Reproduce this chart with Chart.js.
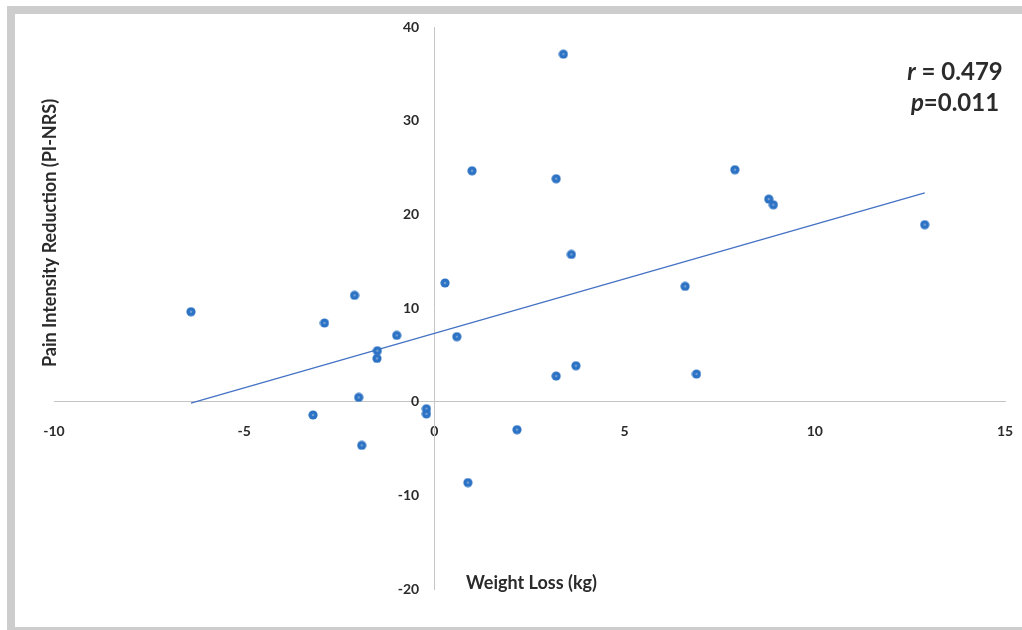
<!DOCTYPE html>
<html>
<head>
<meta charset="utf-8">
<script src="https://cdn.jsdelivr.net/npm/chart.js@4.4.1/dist/chart.umd.min.js"></script>
<style>
  html, body { margin: 0; padding: 0; background: #fff; overflow: hidden; }
  #frame { position: absolute; left: 7px; top: 6px; width: 1040px; height: 629px; border: 8px solid #cdcdcd; box-sizing: border-box; }
  #chart { position: absolute; left: 0; top: 0; }
</style>
</head>
<body>
<div id="frame"></div>
<canvas id="chart" width="1022" height="630"></canvas>
<script>
// weight loss (kg) vs pain intensity reduction
const weightLoss = [-6.40, -2.89, -2.10, -3.19, -1.99, -1.91, -1.50, -1.51, -0.99, -0.21, -0.21, 0.28, 0.59, 0.99, 0.88, 2.17, 3.39, 3.20, 3.60, 3.20, 3.72, 6.59, 6.89, 7.90, 8.79, 8.91, 12.89];
const painReduction = [9.6, 8.4, 11.35, -1.42, 0.46, -4.66, 5.44, 4.62, 7.08, -0.75, -1.31, 12.67, 6.94, 24.65, -8.64, -2.99, 37.1, 23.8, 15.72, 2.74, 3.84, 12.31, 2.95, 24.76, 21.63, 21.02, 18.9];

// linear trend line end points
const trendX = [-6.40, 12.89];
const trendY = [-0.15, 22.3];

const xTicks = [-10, -5, 0, 5, 10, 15];
const yTicks = [-20, -10, 0, 10, 20, 30, 40];

const statLines = [["r", " = 0.479"], ["p", "=0.011"]];
const xTitle = "Weight Loss (kg)";
const yTitle = "Pain Intensity Reduction (PI-NRS)";

const TEXT = "#2b2b2b";
const FONT = "Lato";

// axes cross inside the plot, so they take no layout room
const zeroSize = scale => {
  scale.width = 0; scale.height = 0;
  scale.paddingLeft = 0; scale.paddingRight = 0;
  scale.paddingTop = 0; scale.paddingBottom = 0;
};

// Excel-like marker: blue dot with a pale centre
function makeMarker() {
  const c = document.createElement("canvas");
  c.width = 10; c.height = 10;
  const g = c.getContext("2d");
  g.fillStyle = "#2c72c4";
  g.beginPath(); g.arc(5, 5, 4.6, 0, Math.PI * 2); g.fill();
  g.fillStyle = "#6f9fd6";
  g.beginPath(); g.arc(5, 5, 1.3, 0, Math.PI * 2); g.fill();
  return c;
}

const labelsPlugin = {
  id: "labels",
  afterDraw(chart) {
    const ctx = chart.ctx;
    ctx.save();
    ctx.fillStyle = TEXT;
    ctx.textBaseline = "middle";

    ctx.font = "bold 18px " + FONT;
    ctx.textAlign = "left";
    ctx.fillText(xTitle, 466, 583);

    ctx.save();
    ctx.translate(50, 233);
    ctx.rotate(-Math.PI / 2);
    ctx.textAlign = "center";
    ctx.fillText(yTitle, 0, 0);
    ctx.restore();

    // r / p annotation, centred
    const centre = 955;
    const ys = [72, 103];
    ctx.textAlign = "left";
    statLines.forEach(([sym, rest], i) => {
      ctx.font = "italic bold 24px " + FONT;
      const w1 = ctx.measureText(sym).width;
      ctx.font = "bold 24px " + FONT;
      const w2 = ctx.measureText(rest).width;
      const x0 = centre - (w1 + w2) / 2;
      ctx.font = "italic bold 24px " + FONT;
      ctx.fillText(sym, x0, ys[i]);
      ctx.font = "bold 24px " + FONT;
      ctx.fillText(rest, x0 + w1, ys[i]);
    });
    ctx.restore();
  }
};

new Chart(document.getElementById("chart"), {
  type: "scatter",
  data: {
    datasets: [
      {
        label: "Pain reduction",
        data: weightLoss.map((x, i) => ({ x, y: painReduction[i] })),
        pointStyle: makeMarker(),
        order: 1
      },
      {
        type: "line",
        label: "Trend",
        data: trendX.map((x, i) => ({ x, y: trendY[i] })),
        borderColor: "#4472c4",
        borderWidth: 1.3,
        pointRadius: 0,
        fill: false,
        order: 2
      }
    ]
  },
  options: {
    responsive: false,
    animation: false,
    layout: { padding: { left: 54, top: 27, right: 17, bottom: 41 } },
    plugins: {
      legend: { display: false },
      tooltip: { enabled: false }
    },
    scales: {
      x: {
        type: "linear",
        position: { y: 0 },
        min: -10, max: 15,
        afterFit: zeroSize,
        afterBuildTicks: s => { s.ticks = xTicks.map(v => ({ value: v })); },
        grid: { display: false },
        border: { display: true, color: "#c4c4c4", width: 1 },
        ticks: { padding: 13, color: TEXT, font: { family: FONT, size: 14, weight: "bold" } }
      },
      y: {
        type: "linear",
        position: { x: 0 },
        min: -20, max: 40,
        afterFit: zeroSize,
        grid: { display: false },
        border: { display: true, color: "#c4c4c4", width: 1 },
        ticks: { display: false }
      },
      yl: {
        type: "linear",
        axis: "y",
        position: { x: -0.4 },
        min: -20, max: 40,
        afterFit: zeroSize,
        afterBuildTicks: s => { s.ticks = yTicks.map(v => ({ value: v })); },
        grid: { display: false },
        border: { display: false },
        ticks: { padding: 0, color: TEXT, font: { family: FONT, size: 14, weight: "bold" } }
      }
    }
  },
  plugins: [labelsPlugin]
});
</script>
</body>
</html>
